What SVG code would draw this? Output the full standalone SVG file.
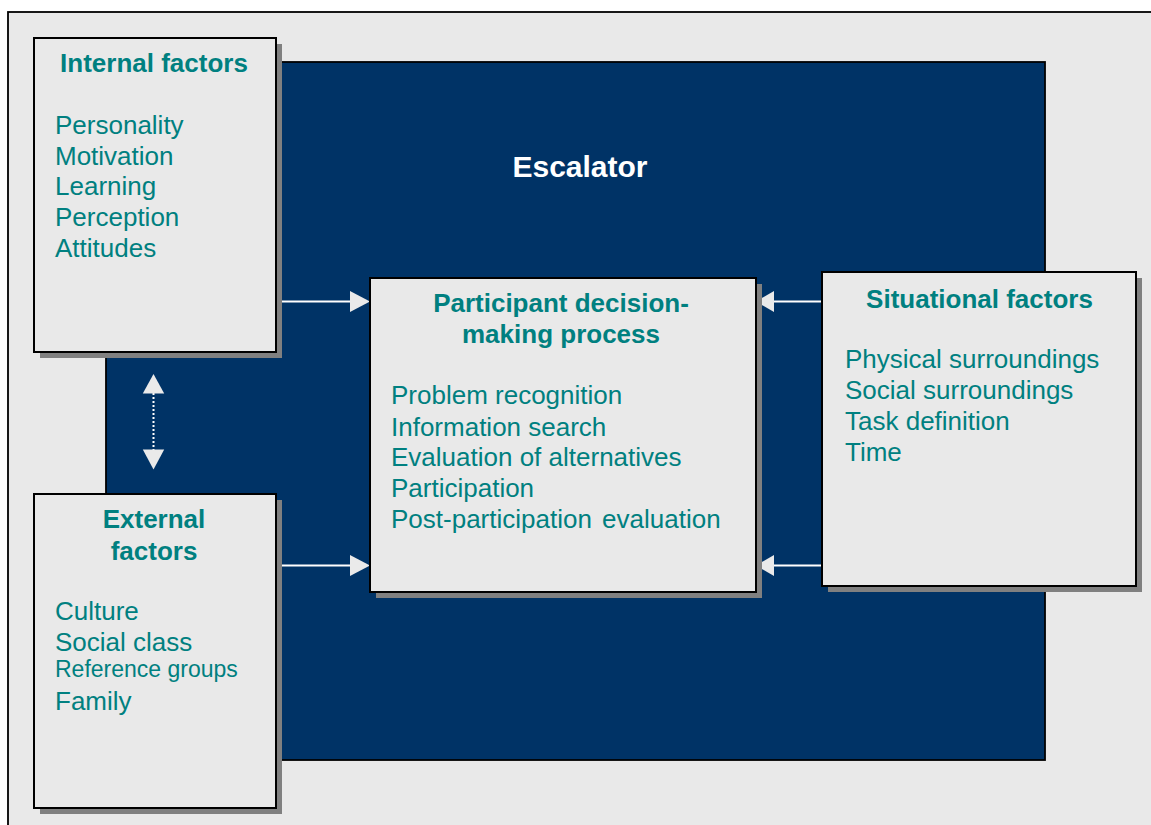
<svg xmlns="http://www.w3.org/2000/svg" width="1151" height="825" viewBox="0 0 1151 825">
<style>
.box{fill:#E9E9E9;stroke:#000;stroke-width:2}
.shadow{fill:#808080}
.hd{font-family:"Liberation Sans",Arial,sans-serif;font-weight:bold;font-size:26px;fill:#008080;text-anchor:middle}
.tx{font-family:"Liberation Sans",Arial,sans-serif;font-size:26px;fill:#008080}
.sm{font-size:23px}
.ln{stroke:#FFFFFF;stroke-width:2;fill:none}
.ah{fill:#EAEAEA}
</style>
<rect x="0" y="0" width="1151" height="825" fill="#FFFFFF"/>
<rect id="frame" x="8" y="12" width="1160" height="830" fill="#E9E9E9" stroke="#000" stroke-width="1.8"/>
<g id="escalator">
<rect x="106" y="62" width="939" height="698" fill="#003366" stroke="#000" stroke-width="1.8"/>
<text x="580" y="177" font-family="Liberation Sans, Arial, sans-serif" font-weight="bold" font-size="30" fill="#FFFFFF" text-anchor="middle">Escalator</text>
</g>
<g id="connectors">
<line class="ln" x1="276" y1="301.5" x2="352" y2="301.5"/>
<polygon class="ah" points="370,301.5 350,291 350,312"/>
<line class="ln" x1="276" y1="565.5" x2="352" y2="565.5"/>
<polygon class="ah" points="370,565.5 350,555 350,576"/>
<line class="ln" x1="822" y1="301.5" x2="772" y2="301.5"/>
<polygon class="ah" points="756,301.5 774,291 774,312"/>
<line class="ln" x1="822" y1="565.5" x2="772" y2="565.5"/>
<polygon class="ah" points="756,565.5 774,555 774,576"/>
<line x1="153.5" y1="393" x2="153.5" y2="450" stroke="#FFFFFF" stroke-width="2" stroke-dasharray="2,2"/>
<polygon class="ah" points="153.5,374 142.8,393.5 164.2,393.5"/>
<polygon class="ah" points="153.5,469.5 142.8,449.5 164.2,449.5"/>
</g>
<g id="internal">
<rect class="shadow" x="40" y="44" width="242" height="314"/>
<rect class="box" x="34" y="38" width="242" height="314"/>
<text class="hd" x="154" y="72">Internal factors</text>
<text class="tx" x="55" y="134">Personality</text>
<text class="tx" x="55" y="164.5">Motivation</text>
<text class="tx" x="55" y="195">Learning</text>
<text class="tx" x="55" y="225.7">Perception</text>
<text class="tx" x="55" y="256.5">Attitudes</text>
</g>
<g id="external">
<rect class="shadow" x="40" y="500" width="242" height="314"/>
<rect class="box" x="34" y="494" width="242" height="314"/>
<text class="hd" x="154" y="527.5">External</text>
<text class="hd" x="154" y="559.5">factors</text>
<text class="tx" x="55" y="619.5">Culture</text>
<text class="tx" x="55" y="651">Social class</text>
<text class="tx sm" x="55" y="676.5">Reference groups</text>
<text class="tx" x="55" y="710">Family</text>
</g>
<g id="process">
<rect class="shadow" x="376" y="284" width="386" height="314"/>
<rect class="box" x="370" y="278" width="386" height="314"/>
<text class="hd" x="561" y="311.7">Participant decision-</text>
<text class="hd" x="561" y="343.3">making process</text>
<text class="tx" x="391" y="404.3">Problem recognition</text>
<text class="tx" x="391" y="435.5">Information search</text>
<text class="tx" x="391" y="466">Evaluation of alternatives</text>
<text class="tx" x="391" y="496.5">Participation</text>
<text class="tx" x="391" y="527.6" word-spacing="3">Post-participation evaluation</text>
</g>
<g id="situational">
<rect class="shadow" x="828" y="278" width="314" height="314"/>
<rect class="box" x="822" y="272" width="314" height="314"/>
<text class="hd" x="979.5" y="308.3">Situational factors</text>
<text class="tx" x="845" y="367.7">Physical surroundings</text>
<text class="tx" x="845" y="398.5">Social surroundings</text>
<text class="tx" x="845" y="430">Task definition</text>
<text class="tx" x="845" y="461">Time</text>
</g>
</svg>
